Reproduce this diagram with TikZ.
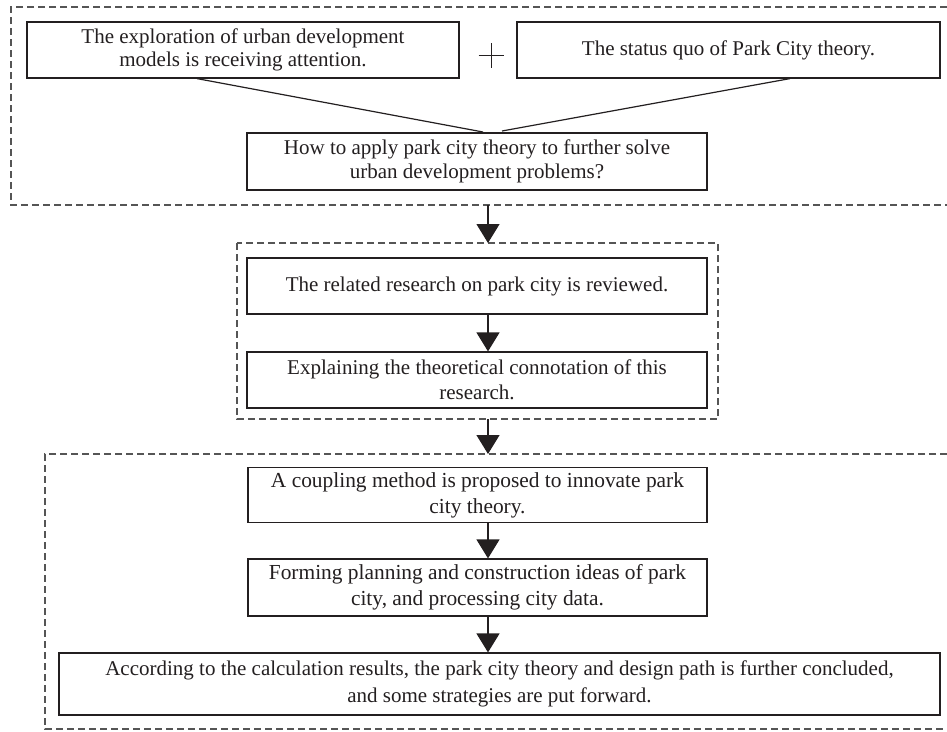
\documentclass[tikz,border=0pt]{standalone}
\usepackage{fontspec}
\setmainfont{Liberation Serif}
\usetikzlibrary{arrows.meta}
\definecolor{ink}{HTML}{231F20}
\definecolor{dashgray}{HTML}{555555}
\begin{document}
\begin{tikzpicture}[x=1pt,y=-1pt,
  stepbox/.style={draw=ink, line width=1.2pt, inner sep=0pt, align=center, text=ink,
     font=\fontsize{21}{23.5}\selectfont},
  midfont/.style={font=\fontsize{21}{25}\selectfont},
  botfont/.style={font=\fontsize{21.4}{26}\selectfont},
  widefont/.style={font=\fontsize{21}{26.7}\selectfont},
  groupbox/.style={draw=dashgray, line width=1.2pt, dash pattern=on 7pt off 4pt},
  flow/.style={draw=ink, line width=1.3pt, -{Triangle[width=23pt,length=19pt]}},
  joinline/.style={draw=ink, line width=1.2pt}
]
\useasboundingbox (0,0) rectangle (947,731);
\fill[white] (0,0) rectangle (947,731);

% dashed group frames
\draw[groupbox] (947,7) -| (11,205) -- (947,205);
\draw[groupbox] (237,243) rectangle (718,419);
\draw[groupbox] (947,454) -| (45,729) -- (947,729);

% boxes
\node[stepbox, minimum width=432pt, minimum height=56pt] (b1) at (243,50)
  {The exploration of urban development\\models is receiving attention.};
\node[stepbox, minimum width=423pt, minimum height=56pt] (b2) at (728.5,50)
  {The status quo of Park City theory.};
\node[stepbox, minimum width=460pt, minimum height=57pt] (b3) at (477,161.5)
  {How to apply park city theory to further solve\\urban development problems?};
\node[stepbox, midfont, minimum width=460pt, minimum height=56pt] (b4) at (477,286)
  {The related research on park city is reviewed.};
\node[stepbox, midfont, minimum width=460pt, minimum height=56pt] (b5) at (477,380)
  {Explaining the theoretical connotation of this\\research.};
\node[stepbox, botfont, minimum width=459pt, minimum height=55pt] (b6) at (477.5,495)
  {A coupling method is proposed to innovate park\\city theory.};
\node[stepbox, botfont, minimum width=459pt, minimum height=57pt] (b7) at (477.5,587.5)
  {Forming planning and construction ideas of park\\city, and processing city data.};
\node[stepbox, widefont, minimum width=881pt, minimum height=62pt] (b8) at (499.5,684)
  {According to the calculation results, the park city theory and design path is further concluded,\\and some strategies are put forward.};

% plus sign
\node[inner sep=0pt, minimum size=0pt] (plus) at (491,55) {};
\draw[ink, line width=0.9pt] ([xshift=-12.5pt]plus.center) -- ([xshift=12.5pt]plus.center);
\draw[ink, line width=0.9pt] ([yshift=-12.5pt]plus.center) -- ([yshift=12.5pt]plus.center);

% converging lines
\coordinate (s1) at (197,0);
\coordinate (s2) at (790,0);
\coordinate (j1) at (483,132);
\coordinate (j2) at (502,131);
\draw[joinline] (b1.south -| s1) -- (j1);
\draw[joinline] (b2.south -| s2) -- (j2);

% arrows
\coordinate (ax) at (488,0);
\coordinate (topframe) at (488,205);
\coordinate (midtop) at (488,243);
\coordinate (midbot) at (488,419);
\coordinate (bottop) at (488,454);
\draw[flow] (topframe) -- (midtop);
\draw[flow] (b4.south -| ax) -- (b5.north -| ax);
\draw[flow] (midbot) -- (bottop);
\draw[flow] (b6.south -| ax) -- (b7.north -| ax);
\draw[flow] (b7.south -| ax) -- (b8.north -| ax);
\end{tikzpicture}
\end{document}
